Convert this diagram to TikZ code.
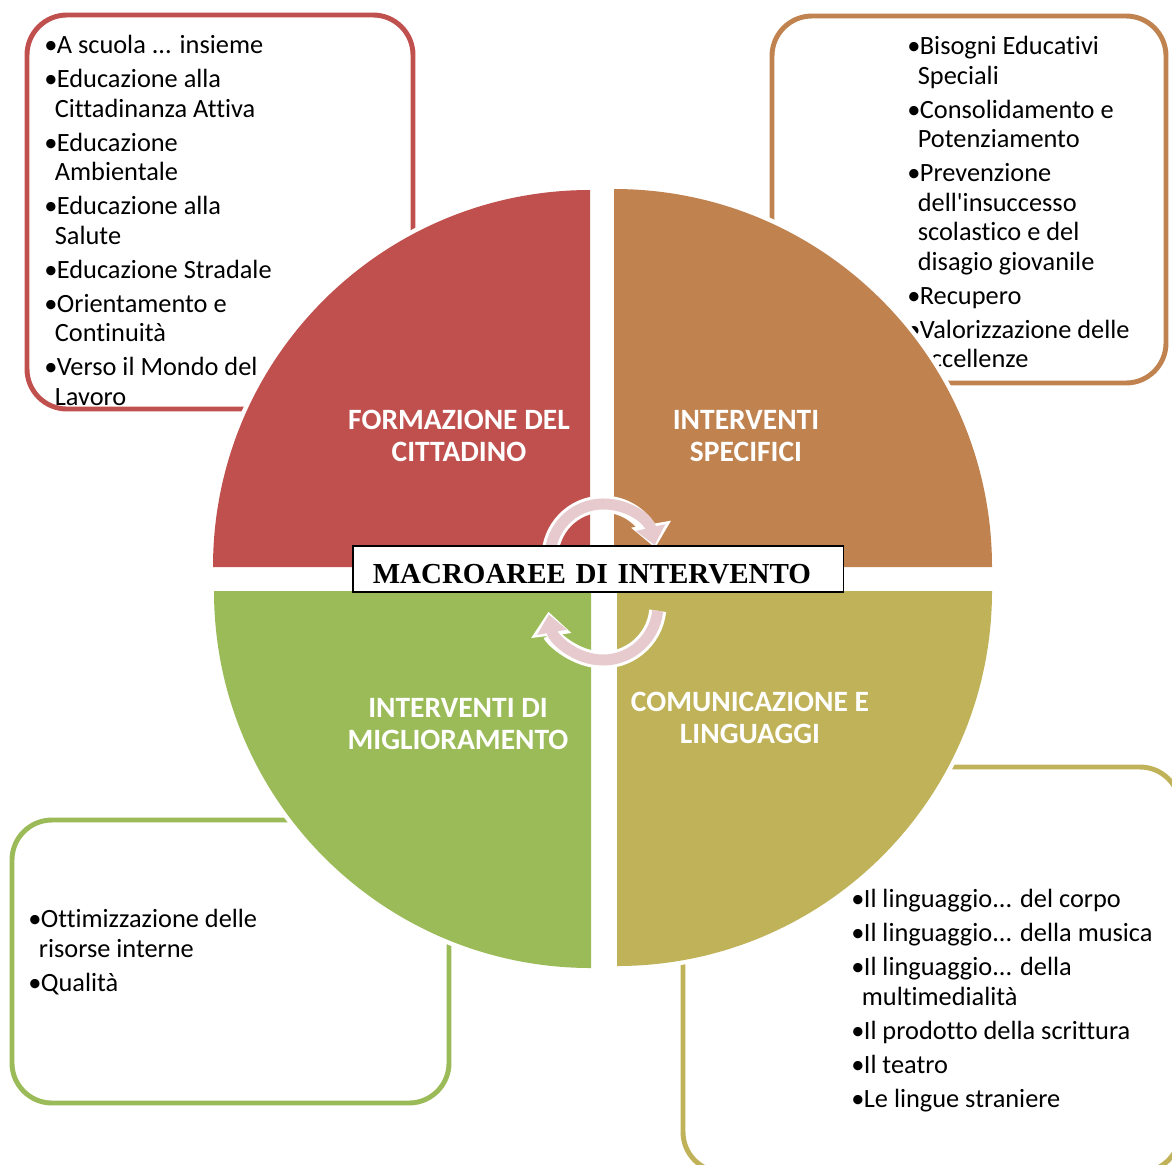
\documentclass[tikz,border=0pt]{standalone}
\usepackage{fontspec}
\setmainfont{Carlito}[Ligatures=NoCommon]
\newfontfamily\timesfont{Liberation Serif}
\usepackage{xcolor}
\usetikzlibrary{arrows.meta}

\definecolor{redq}{HTML}{C0504D}
\definecolor{orangeq}{HTML}{C08350}
\definecolor{oliveq}{HTML}{BFB258}
\definecolor{greenq}{HTML}{9BBB59}
\definecolor{pinkarr}{HTML}{E6CACD}

\newcommand{\bul}{\makebox[0.25cm][l]{•}}
\newcommand{\ind}{\hspace*{0.21cm}}

\begin{document}
\begin{tikzpicture}[x=0.02cm, y=0.02cm,
    listbox/.style={draw=#1, line width=2.8pt, fill=white, rounded corners=0.8cm},
    listtext/.style={anchor=north west, inner sep=0pt, align=left, font=\fontsize{15}{16.8}\selectfont},
    quad/.style={fill=#1, preaction={draw=white, line width=5pt}},
    quadlabel/.style={text=white, align=center, font=\fontsize{16.8}{18}\selectfont\bfseries},
    halo/.style={draw=white, line width=0.34cm, -{Triangle[width=0.78cm,length=0.48cm]}},
    circarrow/.style={draw=pinkarr, line width=0.22cm, -{Triangle[width=0.58cm,length=0.36cm]}}]

    \useasboundingbox (0,0) rectangle (1172,-1164);
    \clip (0,0) rectangle (1172,-1164);

    \draw[listbox=redq] (27,-15) rectangle (413,-409);
    \draw[listbox=orangeq] (772,-16) rectangle (1166,-383);
    \draw[listbox=greenq] (12,-820) rectangle (449,-1103);
    \draw[listbox=oliveq] (683,-767) rectangle (1180,-1172);

    \node[listtext] (formlist) at (44,-35) {\bul A scuola ... insieme\\[0.09cm]
        \bul Educazione alla\\\ind Cittadinanza Attiva\\[0.09cm]
        \bul Educazione\\\ind Ambientale\\[0.09cm]
        \bul Educazione alla\\\ind Salute\\[0.09cm]
        \bul Educazione Stradale\\[0.09cm]
        \bul Orientamento e\\\ind Continuità\\[0.09cm]
        \bul Verso il Mondo del\\\ind Lavoro};
    \node[listtext] (speclist) at (907,-36) {\bul Bisogni Educativi\\\ind Speciali\\[0.09cm]
        \bul Consolidamento e\\\ind Potenziamento\\[0.09cm]
        \bul Prevenzione\\\ind dell\textquotesingle insuccesso\\\ind scolastico e del\\\ind disagio giovanile\\[0.09cm]
        \bul Recupero\\[0.09cm]
        \bul Valorizzazione delle\\\ind eccellenze};
    \node[listtext] (miglist) at (28,-909) {\bul Ottimizzazione delle\\\ind risorse interne\\[0.09cm]
        \bul Qualità};
    \node[listtext] (comlist) at (851,-889) {\bul Il linguaggio... del corpo\\[0.09cm]
        \bul Il linguaggio... della musica\\[0.09cm]
        \bul Il linguaggio... della\\\ind multimedialità\\[0.09cm]
        \bul Il prodotto della scrittura\\[0.09cm]
        \bul Il teatro\\[0.09cm]
        \bul Le lingue straniere};

    \path[quad=redq] (590,-567) -- (590,-190) arc[start angle=90, end angle=180, radius=377] -- cycle;
    \path[quad=orangeq] (614,-567) -- (992,-567) arc[start angle=0, end angle=90, radius=378] -- cycle;
    \path[quad=greenq] (591,-591) -- (214,-591) arc[start angle=180, end angle=270, radius=377] -- cycle;
    \path[quad=oliveq] (617,-591) -- (617,-966) arc[start angle=270, end angle=360, radius=375] -- cycle;

    \node[quadlabel] (formazione) at (459,-436) {FORMAZIONE DEL\\CITTADINO};
    \node[quadlabel] (specifici) at (746,-436) {INTERVENTI\\SPECIFICI};
    \node[quadlabel] (miglior) at (458,-724) {INTERVENTI DI\\MIGLIORAMENTO};
    \node[quadlabel] (comunic) at (750,-718) {COMUNICAZIONE E\\LINGUAGGI};

    \draw[halo] (603,-557) ++(192:53) arc[start angle=192, end angle=10, radius=53];
    \draw[circarrow] (603,-557) ++(192:53) arc[start angle=192, end angle=13, radius=53];
    \draw[halo] (603,-605) ++(-6:55) arc[start angle=-6, end angle=-173, radius=55];
    \draw[circarrow] (603,-605) ++(-6:55) arc[start angle=-6, end angle=-170, radius=55];

    \node[draw, line width=0.9pt, fill=white, anchor=west, minimum height=0.92cm, inner xsep=0.4cm,
        text height=0.56cm, text depth=0cm, text width=9.02cm, align=left,
        font=\timesfont\bfseries\fontsize{16.5}{18}\selectfont] (macro) at (352,-569) {MACROAREE DI INTERVENTO};

\end{tikzpicture}
\end{document}
